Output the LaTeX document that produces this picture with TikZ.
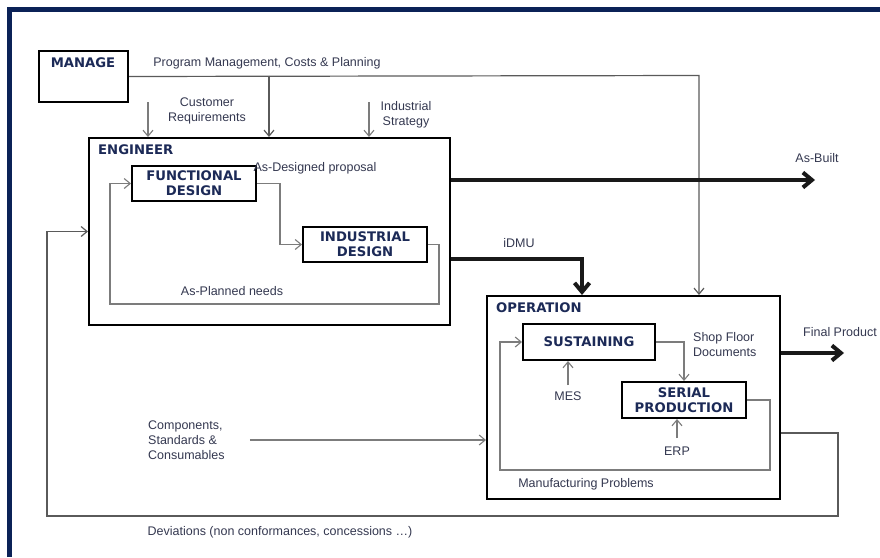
\documentclass[tikz,border=0pt]{standalone}
\usepackage{fontspec}
\setmainfont{Liberation Sans}
\newfontfamily\titlefont{DejaVu Sans}
\usetikzlibrary{arrows.meta,calc}
\definecolor{framenavy}{HTML}{0B2257}
\definecolor{titlenavy}{HTML}{1C2A57}
\definecolor{labelgrey}{HTML}{343850}
\definecolor{flowgrey}{HTML}{7C7C7C}
\definecolor{mgmtgrey}{HTML}{5A5A5A}
\newcommand{\clrframe}{framenavy}
\newcommand{\clrtitle}{titlenavy}
\newcommand{\clrlabel}{labelgrey}
\newcommand{\clrflow}{flowgrey}
\newcommand{\clrmgmt}{mgmtgrey}
\tikzset{
    box/.style={draw=black, line width=2pt, fill=white, inner sep=0pt},
    inbox/.style={box, align=center, text=\clrtitle,
        font={\titlefont\bfseries\fontsize{13.2}{15}\selectfont}},
    title/.style={inner sep=0pt, text=\clrtitle,
        font={\titlefont\bfseries\fontsize{13.2}{15}\selectfont}},
    lbl/.style={inner sep=0pt, align=center, text=\clrlabel,
        font={\fontsize{12.5}{15}\selectfont}},
    flow/.style={draw=\clrflow, line width=1.1pt, -{Straight Barb[length=6pt,width=10pt]}},
    mflow/.style={draw=\clrmgmt, line width=1.2pt, -{Straight Barb[length=6pt,width=10pt]}},
    bigflow/.style={draw=black!90, line width=4pt, -{Straight Barb[length=9pt,width=15pt]}}
}
\begin{document}
\begin{tikzpicture}[x=1pt, y=-1pt]
    \useasboundingbox (0,0) rectangle (880,557);

    % frame
    \draw[\clrframe, line width=5pt] (9.5,557) -- (9.5,9.5) -- (880,9.5);

    % main boxes
    \node[box, anchor=north west, minimum width=89, minimum height=51] (manage) at (38,50) {};
    \node[box, anchor=north west, minimum width=361, minimum height=187] (eng) at (88,137) {};
    \node[box, anchor=north west, minimum width=293, minimum height=203] (op) at (486,295) {};

    \node[title] (managet) at (83,63) {MANAGE};
    \node[title, anchor=west] (engt) at (98,150) {ENGINEER};
    \node[title, anchor=west] (opt) at (496,308) {OPERATION};

    % inner boxes
    \node[inbox, minimum width=124, minimum height=35] (fd) at (194,183.5) {FUNCTIONAL\\DESIGN};
    \node[inbox, minimum width=124, minimum height=35] (id) at (365,244.5) {INDUSTRIAL\\DESIGN};
    \node[inbox, minimum width=132, minimum height=36] (sus) at (589,342) {SUSTAINING};
    \node[inbox, minimum width=124, minimum height=36] (sp) at (684,400) {SERIAL\\PRODUCTION};

    % labels
    \node[lbl] (pmc) at (267,63) {Program Management, Costs \& Planning};
    \node[lbl] (creq) at (207,110.5) {Customer\\Requirements};
    \node[lbl] (istr) at (406,114.5) {Industrial\\Strategy};
    \node[lbl] (asd) at (315,168) {As-Designed proposal};
    \node[lbl] (apn) at (232,291) {As-Planned needs};
    \node[lbl] (asb) at (817,158) {As-Built};
    \node[lbl] (idmut) at (519,243) {iDMU};
    \node[lbl, align=left, anchor=west] (sfd) at (693,344.5) {Shop Floor\\Documents};
    \node[lbl] (mes) at (568,396) {MES};
    \node[lbl] (erp) at (677,451) {ERP};
    \node[lbl] (mfp) at (586,484) {Manufacturing Problems};
    \node[lbl] (fpt) at (840,332) {Final Product};
    \node[lbl, align=left, anchor=west] (csc) at (148,440) {Components,\\Standards \&\\Consumables};
    \node[lbl] (dev) at (280,532) {Deviations (non conformances, concessions \ldots)};

    % corners
    \coordinate (mgr) at (699,75.5);
    \coordinate (pm) at (269,75.5);
    \coordinate (plr) at (439,304);
    \coordinate (pll) at (110,304);
    \coordinate (olr) at (770,470);
    \coordinate (oll) at (500,470);
    \coordinate (asbend) at (815,180);
    \coordinate (idmu) at (582,259);
    \coordinate (fpend) at (844,353);
    \coordinate (dvr) at (838,433);
    \coordinate (dvl) at (47,516);

    % management
    \draw[mflow] (manage.east) -- (mgr) -- (mgr |- op.north);
    \draw[mflow] (pm) -- (pm |- eng.north);
    \foreach \x in {148,369} {
        \draw[flow] (\x,102) -- (\x,137);
    }

    % engineer
    \draw[flow] (fd.east) -- ++(23,0) |- (id.west);
    \draw[flow] (id.east) -| (plr) -- (pll) |- (fd.west);
    \draw[bigflow] (asbend -| eng.east) -- (asbend);
    \draw[bigflow] (idmu -| eng.east) -- (idmu) -- (idmu |- op.north);

    % operation
    \draw[flow] (sus.east) -| (sp.north);
    \draw[flow] (sp.east) -| (olr) -- (oll) |- (sus.west);
    \draw[flow] (mes.north |- 0,385) -- (mes.north |- sus.south);
    \draw[flow] (erp.north |- 0,438) -- (erp.north |- sp.south);
    \draw[flow] (csc.east |- 0,440) ++(25,0) -- (op.west |- 0,440);
    \draw[bigflow] (fpend -| op.east) -- (fpend);

    % deviations
    \draw[mflow] (dvr -| op.east) -- (dvr) |- (dvl) |- (eng.west);

\end{tikzpicture}
\end{document}
